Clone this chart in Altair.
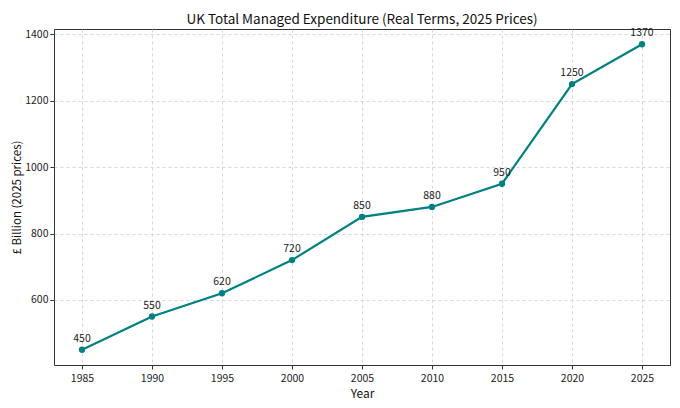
import altair as alt
import pandas as pd

years = [1985, 1990, 1995, 2000, 2005, 2010, 2015, 2020, 2025]
spending = [450, 550, 620, 720, 850, 880, 950, 1250, 1370]

FONT = "Noto Sans CJK JP"
TEAL = "#008080"

source = pd.DataFrame({"Year": years, "Spend": spending})

base = alt.Chart(source).encode(
    x=alt.X(
        "Year:Q",
        scale=alt.Scale(domain=[1983, 2027], nice=False, zero=False),
        axis=alt.Axis(values=years, format="d", title="Year"),
    ),
    y=alt.Y(
        "Spend:Q",
        scale=alt.Scale(domain=[404, 1416], nice=False, zero=False),
        axis=alt.Axis(
            values=[600, 800, 1000, 1200, 1400],
            format="d",
            title="£ Billion (2025 prices)",
        ),
    ),
)

line = base.mark_line(color=TEAL, strokeWidth=2.2)
points = base.mark_circle(color=TEAL, size=40, opacity=1)
labels = base.mark_text(dy=-11, fontSize=10.5, font=FONT, color="#222").encode(
    text="Spend:Q"
)

chart = (
    (line + points + labels)
    .properties(
        width=664,
        height=394,
        autosize=alt.AutoSizeParams(type="fit", contains="padding"),
        padding={"left": 3, "top": 5, "right": 2, "bottom": 2},
        title=alt.TitleParams(
            "UK Total Managed Expenditure (Real Terms, 2025 Prices)",
            font=FONT,
            fontSize=13.5,
            fontWeight="normal",
            color="#111",
            offset=2,
        ),
    )
    .configure_view(stroke="#333", strokeWidth=1)
    .configure_axis(
        grid=True,
        gridColor="#cccccc",
        gridDash=[3, 3],
        gridWidth=0.8,
        domain=False,
        tickColor="#333",
        tickSize=4,
        labelFont=FONT,
        labelFontSize=10.5,
        labelColor="#222",
        titleFont=FONT,
        titleFontSize=11.5,
        titleFontWeight="normal",
        titleColor="#111",
    )
    .configure_axisX(labelPadding=4, titlePadding=5, titleFontSize=12)
    .configure_axisY(labelPadding=2, titlePadding=2)
)

chart.save("out.html", embed_options={"renderer": "svg", "actions": False})
